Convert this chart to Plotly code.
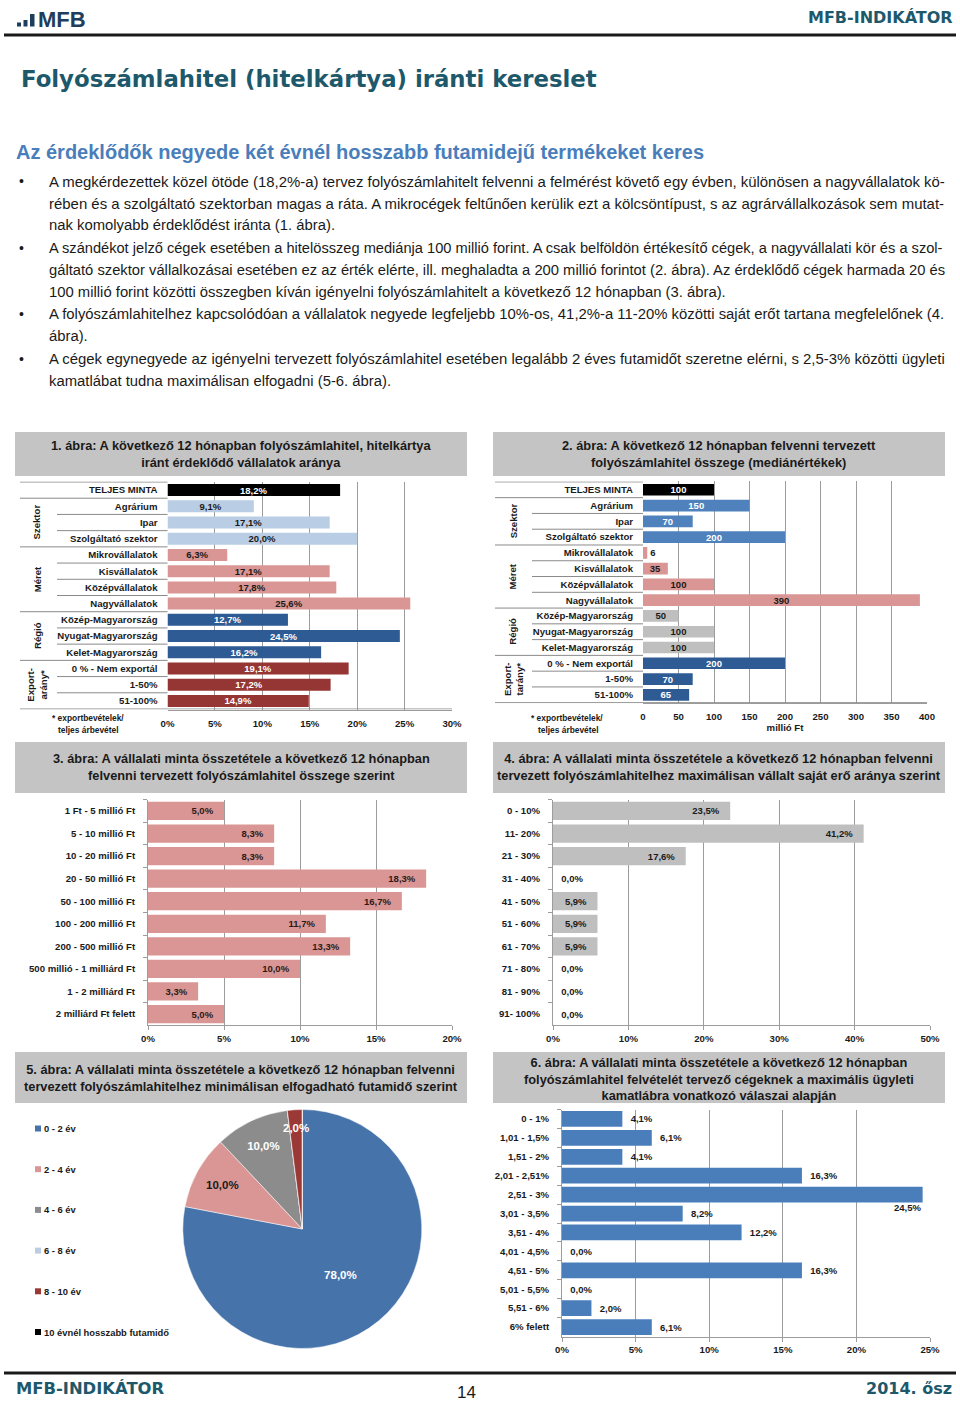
import math
import plotly.graph_objects as go

W, H = 960, 1401

# ---------------- data ----------------
c1_categories = ["TELJES MINTA", "Agrárium", "Ipar", "Szolgáltató szektor",
                 "Mikrovállalatok", "Kisvállalatok", "Középvállalatok", "Nagyvállalatok",
                 "Közép-Magyarország", "Nyugat-Magyarország", "Kelet-Magyarország",
                 "0 % - Nem exportál", "1-50%", "51-100%"]
c1_values = [18.2, 9.1, 17.1, 20.0, 6.3, 17.1, 17.8, 25.6, 12.7, 24.5, 16.2, 19.1, 17.2, 14.9]
c1_ticks = [0, 5, 10, 15, 20, 25, 30]
c1_groups = ["Szektor", "Méret", "Régió", "Export-<br>arány*"]

c2_categories = list(c1_categories)
c2_values = [100, 150, 70, 200, 6, 35, 100, 390, 50, 100, 100, 200, 70, 65]
c2_ticks = [0, 50, 100, 150, 200, 250, 300, 350, 400]
c2_groups = ["Szektor", "Méret", "Régió", "Export-<br>tarány*"]

group_sizes = [3, 4, 3, 3]

c3_categories = ["1 Ft - 5 millió Ft", "5 - 10 millió Ft", "10 - 20 millió Ft", "20 - 50 millió Ft",
                 "50 - 100 millió Ft", "100 - 200 millió Ft", "200 - 500 millió Ft",
                 "500 millió - 1 milliárd Ft", "1 - 2 milliárd Ft", "2 milliárd Ft felett"]
c3_values = [5.0, 8.3, 8.3, 18.3, 16.7, 11.7, 13.3, 10.0, 3.3, 5.0]
c3_ticks = [0, 5, 10, 15, 20]

c4_categories = ["0 - 10%", "11- 20%", "21 - 30%", "31 - 40%", "41 - 50%", "51 - 60%",
                 "61 - 70%", "71 - 80%", "81 - 90%", "91- 100%"]
c4_values = [23.5, 41.2, 17.6, 0.0, 5.9, 5.9, 5.9, 0.0, 0.0, 0.0]
c4_ticks = [0, 10, 20, 30, 40, 50]

c5_labels = ["0 - 2 év", "2 - 4 év", "4 - 6 év", "6 - 8 év", "8 - 10 év", "10 évnél hosszabb futamidő"]
c5_values = [78.0, 10.0, 10.0, 0.0, 2.0, 0.0]

c6_categories = ["0 - 1%", "1,01 - 1,5%", "1,51 - 2%", "2,01 - 2,51%", "2,51 - 3%", "3,01 - 3,5%",
                 "3,51 - 4%", "4,01 - 4,5%", "4,51 - 5%", "5,01 - 5,5%", "5,51 - 6%", "6% felett"]
c6_values = [4.1, 6.1, 4.1, 16.3, 24.5, 8.2, 12.2, 0.0, 16.3, 0.0, 2.0, 6.1]
c6_ticks = [0, 5, 10, 15, 20, 25]

# (starts a bullet, ends a paragraph, text)
body_lines = [
    (True, False, "A megkérdezettek közel ötöde (18,2%-a) tervez folyószámlahitelt felvenni a felmérést követő egy évben, különösen a nagyvállalatok kö-"),
    (False, False, "rében és a szolgáltató szektorban magas a ráta. A mikrocégek feltűnően kerülik ezt a kölcsöntípust, s az agrárvállalkozások sem mutat-"),
    (False, True, "nak komolyabb érdeklődést iránta (1. ábra)."),
    (True, False, "A szándékot jelző cégek esetében a hitelösszeg mediánja 100 millió forint. A csak belföldön értékesítő cégek, a nagyvállalati kör és a szol-"),
    (False, False, "gáltató szektor vállalkozásai esetében ez az érték elérte, ill. meghaladta a 200 millió forintot (2. ábra). Az érdeklődő cégek harmada 20 és"),
    (False, True, "100 millió forint közötti összegben kíván igényelni folyószámlahitelt a következő 12 hónapban (3. ábra)."),
    (True, False, "A folyószámlahitelhez kapcsolódóan a vállalatok negyede legfeljebb 10%-os, 41,2%-a 11-20% közötti saját erőt tartana megfelelőnek (4."),
    (False, True, "ábra)."),
    (True, False, "A cégek egynegyede az igényelni tervezett folyószámlahitel esetében legalább 2 éves futamidőt szeretne elérni, s 2,5-3% közötti ügyleti"),
    (False, True, "kamatlábat tudna maximálisan elfogadni (5-6. ábra)."),
]

# ---------------- styles ----------------
SANS = "Liberation Sans, Arial, sans-serif"
WIDE = "DejaVu Sans, Verdana, sans-serif"
TEAL = "#1d586b"
NAVY = "#1f3d5c"
TXT = "#1a1a1a"
GRID = "#9c9c9c"
BLACK, LBLUE, PINK, DBLUE, DRED = "#000000", "#b9cde5", "#d99694", "#2e5b93", "#963634"
MBLUE, GRAY = "#4f81bd", "#bfbfbf"

c1_colors = [BLACK] + [LBLUE] * 3 + [PINK] * 4 + [DBLUE] * 3 + [DRED] * 3
c1_txtcol = ["white"] + [TXT] * 3 + [TXT] * 4 + ["white"] * 6
c2_colors = [BLACK] + [MBLUE] * 3 + [PINK] * 4 + [GRAY] * 3 + [DBLUE] * 3
c2_txtcol = ["white"] * 4 + [TXT] * 7 + ["white"] * 3
pie_colors = ["#4673aa", PINK, "#8c8c8c", LBLUE, "#9b3936", "#000000"]
pie_txtcol = ["white", TXT, "white", "white", "white", "white"]

LAB = 9.6      # category / tick label size
VAL = 9.5      # data label size

# approximate Liberation Sans (Arial) advance widths, per 1000 em, for line fitting
_AW = {" ": 278, ".": 278, ",": 278, "-": 333, "(": 333, ")": 333, "%": 889,
       "f": 278, "i": 222, "í": 278, "j": 222, "l": 222, "r": 333, "t": 278, "m": 833, "w": 722,
       "c": 500, "k": 500, "s": 500, "v": 500, "x": 500, "y": 500, "z": 500,
       "A": 667, "M": 833, "I": 278, "T": 611, "F": 611}


def text_em(s):
    return sum(_AW.get(ch, 556) for ch in s) / 1000.0


def px(x):
    return x / W


def py(y):
    return 1 - y / H


def dom_x(a, b):
    return [px(a), px(b)]


def dom_y(top, bottom):
    return [py(bottom), py(top)]


annotations = []
shapes = []


def add_text(x, y, text, size, color=TXT, family=SANS, bold=False, xanchor="left",
             yanchor="middle", angle=0, align="left", xref="paper", yref="paper"):
    annotations.append(dict(
        x=px(x) if xref == "paper" else x, y=py(y) if yref == "paper" else y,
        xref=xref, yref=yref, text=text, showarrow=False, textangle=angle, align=align,
        font=dict(family=family, size=size, color=color, weight="bold" if bold else "normal"),
        xanchor=xanchor, yanchor=yanchor))


def add_rect(x0, y0, x1, y1, color):
    shapes.append(dict(type="rect", xref="paper", yref="paper", x0=px(x0), x1=px(x1),
                       y0=py(y1), y1=py(y0), fillcolor=color, line=dict(width=0), layer="below"))


def add_hline(x0, x1, y, color, width):
    shapes.append(dict(type="line", xref="paper", yref="paper", x0=px(x0), x1=px(x1),
                       y0=py(y), y1=py(y), line=dict(color=color, width=width)))


fig = go.Figure()

# ---------------- page header / text ----------------
add_rect(17, 22.5, 21, 26.5, NAVY)
add_rect(23.5, 20, 27.5, 26.5, NAVY)
add_rect(30, 14, 34.5, 26.5, NAVY)
add_text(36, 19.5, "MFB", 22, NAVY, SANS, True)
add_text(955, 17, "MFB-INDIKÁTOR", 16, TEAL, WIDE, True, xanchor="right")
add_hline(4, 956, 35, "#1a1a1a", 3)

add_text(19, 79, "Folyószámlahitel (hitelkártya) iránti kereslet", 22.8, TEAL, WIDE, True)
add_text(14, 152, "Az érdeklődők negyede két évnél hosszabb futamidejű termékeket keres", 20,
         "#4a7ebb", SANS, True)

BODY_X0, BODY_X1 = 48, 945
fit_sizes = [min(15.2, (BODY_X1 - BODY_X0) / text_em(t)) for _, last, t in body_lines if not last]
base_size = sum(fit_sizes) / len(fit_sizes)
for i, (bullet, last, line) in enumerate(body_lines):
    y = 181 + i * 22.2
    if bullet:
        add_text(17, y, "•", 14, TXT, SANS)
    size = base_size if last else min(15.2, (BODY_X1 - BODY_X0) / text_em(line))
    add_text(BODY_X0 - 1, y, line, round(size, 2), TXT, SANS)

# footer
add_hline(4, 956, 1373, "#1a1a1a", 3)
add_text(14, 1388, "MFB-INDIKÁTOR", 16.4, TEAL, WIDE, True)
add_text(466, 1392, "14", 17, TXT, SANS, xanchor="center")
add_text(954, 1388, "2014. ősz", 16, TEAL, WIDE, True, xanchor="right")

# ---------------- chart title boxes ----------------
boxes = [
    (15, 432, 467, 476, 454, "1. ábra: A következő 12 hónapban folyószámlahitel, hitelkártya<br>iránt érdeklődő vállalatok aránya"),
    (493, 432, 945, 476, 454, "2. ábra: A következő 12 hónapban felvenni tervezett<br>folyószámlahitel összege (mediánértékek)"),
    (15, 742, 467, 793, 767, "3. ábra: A vállalati minta összetétele a következő 12 hónapban<br>felvenni tervezett folyószámlahitel összege szerint"),
    (493, 742, 945, 793, 767, "4. ábra: A vállalati minta összetétele a következő 12 hónapban felvenni<br>tervezett folyószámlahitelhez maximálisan vállalt saját erő aránya szerint"),
    (15, 1052, 467, 1103, 1077.5, "5. ábra: A vállalati minta összetétele a következő 12 hónapban felvenni<br>tervezett folyószámlahitelhez minimálisan elfogadható futamidő szerint"),
    (493, 1052, 945, 1103, 1078.5, "6. ábra: A vállalati minta összetétele a következő 12 hónapban<br>folyószámlahitel felvételét tervező cégeknek a maximális ügyleti<br>kamatlábra vonatkozó válaszai alapján"),
]
for x0, y0, x1, y1, yc, t in boxes:
    add_rect(x0, y0, x1, y1, "#c4c4c4")
    add_text((x0 + x1) / 2, yc, t, 12.8, TXT, SANS, True, xanchor="center", align="center")

TICKFONT = dict(family=SANS, size=LAB, color=TXT, weight="bold")
LABFONT = dict(family=SANS, size=LAB, color=TXT, weight="bold")

layout_axes = {}


def xaxis_cfg(domain, rng, ticks, anchor, suffix="%", tickmarks=False, title=None, standoff=0):
    d = dict(domain=domain, range=rng, tickvals=ticks, ticktext=[f"{t}{suffix}" for t in ticks],
             anchor=anchor, showgrid=True, gridcolor=GRID, gridwidth=1, zeroline=False,
             showline=True, linecolor=GRID, linewidth=1, tickfont=TICKFONT, automargin=False,
             fixedrange=True, ticks="outside" if tickmarks else "", ticklen=4, tickcolor=GRID,
             ticklabelstandoff=standoff)
    if title:
        d["title"] = dict(text=title, font=TICKFONT, standoff=2)
    return d


def yaxis_cfg(domain, anchor, standoff, axisline=False):
    return dict(domain=domain, type="category", autorange="reversed", anchor=anchor,
                showgrid=False, zeroline=False, showline=axisline, linecolor=GRID, linewidth=1,
                ticks="outside" if axisline else "", tickson="boundaries", ticklen=4,
                tickcolor=GRID, tickfont=LABFONT, ticklabelstandoff=standoff,
                automargin=False, fixedrange=True)


# ---------------- chart 1 ----------------
fig.add_trace(go.Bar(
    x=c1_values, y=c1_categories, orientation="h", xaxis="x", yaxis="y",
    marker=dict(color=c1_colors, line=dict(width=0)), width=0.74, textangle=0,
    texttemplate="%{x:.1f}%", textposition="inside", insidetextanchor="middle",
    constraintext="none", textfont=dict(family=SANS, size=VAL, color=c1_txtcol, weight="bold"),
    hoverinfo="skip", showlegend=False))
layout_axes["xaxis"] = xaxis_cfg(dom_x(167.5, 452), [0, 30], c1_ticks, "y", standoff=5)
layout_axes["yaxis"] = yaxis_cfg(dom_y(481.5, 709.5), "x", 9)

# ---------------- chart 2 ----------------
c2_pos = ["inside" if v >= 20 else "outside" for v in c2_values]
fig.add_trace(go.Bar(
    x=c2_values, y=c2_categories, orientation="h", xaxis="x2", yaxis="y2",
    marker=dict(color=c2_colors, line=dict(width=0)), width=0.74, textangle=0,
    texttemplate="%{x}", textposition=c2_pos, insidetextanchor="middle", cliponaxis=False,
    constraintext="none", textfont=dict(family=SANS, size=VAL, color=c2_txtcol, weight="bold"),
    hoverinfo="skip", showlegend=False))
layout_axes["xaxis2"] = xaxis_cfg(dom_x(643, 927), [0, 400], c2_ticks, "y2", suffix="",
                                  title="millió Ft", standoff=4)
layout_axes["yaxis2"] = yaxis_cfg(dom_y(481.4, 703.2), "x2", 9)

# row separators and group labels for charts 1 and 2
for yref, xleft_out, xleft_in, xplot, xend, glabels, gx in [
        ("y", 20, 57, 167.5, 452, c1_groups, 37),
        ("y2", 495, 532, 643, 927, c2_groups, 513)]:
    n = len(c1_categories)
    boundaries = [-0.5, 0.5]
    start = 1
    group_bounds = {-0.5, 0.5}
    for gi, size in enumerate(group_sizes):
        for k in range(1, size):
            boundaries.append(start + k - 0.5)
        boundaries.append(start + size - 0.5)
        group_bounds.add(start + size - 0.5)
        add_text(gx, (start + (size - 1) / 2), glabels[gi], 9.6, TXT, SANS, True,
                 xanchor="center", angle=-90, align="center", yref=yref)
        start += size
    for b in boundaries:
        x0 = xleft_out if b in group_bounds else xleft_in
        x1 = xend if b == n - 0.5 else xplot
        shapes.append(dict(type="line", xref="paper", yref=yref, x0=px(x0), x1=px(x1), y0=b, y1=b,
                           line=dict(color="#8a8a8a", width=1)))

add_text(50, 718, "* exportbevételek/", 8.4, TXT, SANS, True)
add_text(56, 730, "teljes árbevétel", 8.4, TXT, SANS, True)
add_text(529, 718, "* exportbevételek/", 8.4, TXT, SANS, True)
add_text(536, 730, "teljes árbevétel", 8.4, TXT, SANS, True)

# ---------------- chart 3 ----------------
fig.add_trace(go.Bar(
    x=c3_values, y=c3_categories, orientation="h", xaxis="x3", yaxis="y3",
    marker=dict(color=PINK, line=dict(width=0)), width=0.81, textangle=0,
    texttemplate="%{x:.1f}%\u00a0\u00a0\u00a0", textposition="inside", insidetextanchor="end",
    constraintext="none", textfont=dict(family=SANS, size=VAL, color="#2a1a1a", weight="bold"),
    hoverinfo="skip", showlegend=False))
layout_axes["xaxis3"] = xaxis_cfg(dom_x(148, 452), [0, 20], c3_ticks, "y3", tickmarks=True)
layout_axes["yaxis3"] = yaxis_cfg(dom_y(799.7, 1025.3), "x3", 10, axisline=True)

# ---------------- chart 4 ----------------
c4_pos = ["inside" if v > 0 else "outside" for v in c4_values]
fig.add_trace(go.Bar(
    x=c4_values, y=c4_categories, orientation="h", xaxis="x4", yaxis="y4",
    marker=dict(color=GRAY, line=dict(width=0)), width=0.81, textangle=0,
    texttemplate="\u00a0\u00a0%{x:.1f}%\u00a0\u00a0\u00a0", textposition=c4_pos, insidetextanchor="end",
    cliponaxis=False, constraintext="none",
    textfont=dict(family=SANS, size=VAL, color=TXT, weight="bold"),
    hoverinfo="skip", showlegend=False))
layout_axes["xaxis4"] = xaxis_cfg(dom_x(553, 930), [0, 50], c4_ticks, "y4", tickmarks=True)
layout_axes["yaxis4"] = yaxis_cfg(dom_y(799.7, 1025.3), "x4", 10, axisline=True)

# ---------------- chart 5 (pie) ----------------
PIE_X, PIE_Y = (182.8, 421.8), (1109.5, 1348.5)
small = [0 < v < 5 for v in c5_values]
pie_text = [(f"{v:.1f}%".replace(".", ",") if v > 0 and not s else "") for v, s in zip(c5_values, small)]
fig.add_trace(go.Pie(
    values=c5_values, labels=c5_labels, text=pie_text, textinfo="text", sort=False,
    direction="clockwise", rotation=0, marker=dict(colors=pie_colors, line=dict(color="white", width=0.5)),
    textposition="inside", insidetextorientation="horizontal",
    textfont=dict(family=SANS, size=11.5, color=pie_txtcol, weight="bold"),
    domain=dict(x=dom_x(*PIE_X), y=dom_y(*PIE_Y)),
    hoverinfo="skip", showlegend=False))
# labels of thin slices: placed at the slice's mid-angle, near the rim
total = sum(c5_values)
cx, cy = sum(PIE_X) / 2, sum(PIE_Y) / 2
rad = (PIE_X[1] - PIE_X[0]) / 2
cum = 0.0
for v, s, col in zip(c5_values, small, pie_txtcol):
    mid = (cum + v / 2) / total * 2 * math.pi
    cum += v
    if s:
        add_text(cx + 0.85 * rad * math.sin(mid), cy - 0.85 * rad * math.cos(mid),
                 f"{v:.1f}%".replace(".", ","), 11.5, col, SANS, True, xanchor="center")
for i, (lab, col) in enumerate(zip(c5_labels, pie_colors)):
    yc = 1128.5 + i * 40.7
    add_rect(35, yc - 3, 41, yc + 3, col)
    add_text(42, yc, lab, 9.4, TXT, SANS, True)

# ---------------- chart 6 ----------------
c6_max_ok = 0.9 * c6_ticks[-1]
c6_tmpl = ["\u00a0\u00a0%{x:.1f}%" if v < c6_max_ok else "" for v in c6_values]
fig.add_trace(go.Bar(
    x=c6_values, y=c6_categories, orientation="h", xaxis="x6", yaxis="y6",
    marker=dict(color="#4a7ebb", line=dict(width=0)), width=0.83, textangle=0,
    texttemplate=c6_tmpl, textposition="outside", cliponaxis=False, constraintext="none",
    textfont=dict(family=SANS, size=VAL, color=TXT, weight="bold"),
    hoverinfo="skip", showlegend=False))
for v, c in zip(c6_values, c6_categories):
    if v >= c6_max_ok:
        annotations.append(dict(x=v, y=c, xref="x6", yref="y6", showarrow=False, yshift=-13,
                                text=f"{v:.1f}%".replace(".", ","), xanchor="right",
                                font=dict(family=SANS, size=VAL, color=TXT, weight="bold")))
layout_axes["xaxis6"] = xaxis_cfg(dom_x(562, 930), [0, 25], c6_ticks, "y6", tickmarks=True)
layout_axes["yaxis6"] = yaxis_cfg(dom_y(1109.5, 1336.5), "x6", 10, axisline=True)

fig.update_layout(
    width=W, height=H, autosize=False, template="none",
    margin=dict(l=0, r=0, t=0, b=0, pad=0),
    paper_bgcolor="white", plot_bgcolor="rgba(0,0,0,0)",
    separators=", ", bargap=0.2, hovermode=False, showlegend=False,
    annotations=annotations, shapes=shapes, **layout_axes)

fig.write_html("out.html", config={"displayModeBar": False, "staticPlot": True},
               post_script="document.body.style.margin='0';document.body.style.overflow='hidden';")
